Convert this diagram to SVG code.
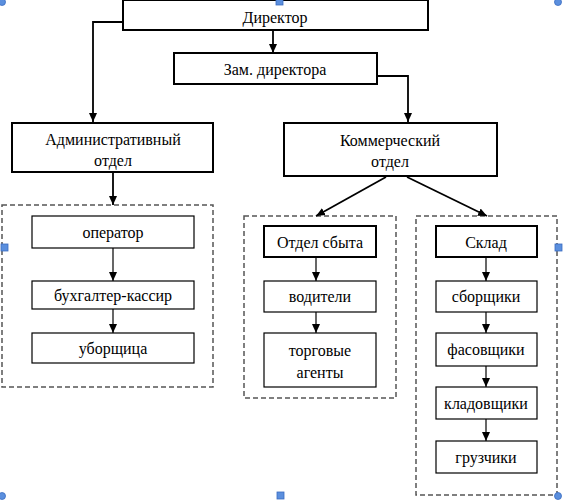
<svg xmlns="http://www.w3.org/2000/svg" width="563" height="502" viewBox="0 0 563 502" font-family="Liberation Serif, serif" font-size="16">
<style>
text{fill:#000;text-anchor:middle}
.thick{fill:#fff;stroke:#000;stroke-width:2}
.thin{fill:#fff;stroke:#000;stroke-width:1.2}
.dash{fill:none;stroke:#555;stroke-width:1.5;stroke-dasharray:5 3}
.main{fill:none;stroke:#000;stroke-width:1.8}
.sub{fill:none;stroke:#000;stroke-width:1.2}
.h{fill:#5b8fde;stroke:#3a6bc0;stroke-width:0.8}
</style>
<defs>
<marker id="ah" markerUnits="userSpaceOnUse" markerWidth="10" markerHeight="10" viewBox="0 0 10 10" refX="9" refY="5" orient="auto">
<path d="M0,1 L9,5 L0,9 Z" fill="#000"/>
</marker>
</defs>

<g id="dashed-groups">
<rect class="dash" x="2" y="205" width="211" height="182"/>
<rect class="dash" x="244" y="216" width="152" height="182"/>
<rect class="dash" x="416" y="216" width="141" height="279"/>
</g>

<g id="connectors">
<path class="main" d="M123,22 H93 V122" marker-end="url(#ah)"/>
<path class="main" d="M273,30 V53" marker-end="url(#ah)"/>
<path class="main" d="M377,76 H408 V122" marker-end="url(#ah)"/>
<path class="main" d="M113,172 V205" marker-end="url(#ah)"/>
<path class="main" d="M386,177 L316,216" marker-end="url(#ah)"/>
<path class="main" d="M407,177 L487,216" marker-end="url(#ah)"/>
<path class="sub" d="M113,248 V281" marker-end="url(#ah)"/>
<path class="sub" d="M113,309 V333" marker-end="url(#ah)"/>
<path class="sub" d="M316,257 V281" marker-end="url(#ah)"/>
<path class="sub" d="M316,312 V333" marker-end="url(#ah)"/>
<path class="sub" d="M486,257 V281" marker-end="url(#ah)"/>
<path class="sub" d="M486,312 V333" marker-end="url(#ah)"/>
<path class="sub" d="M486,366 V387" marker-end="url(#ah)"/>
<path class="sub" d="M486,419 V441" marker-end="url(#ah)"/>
</g>

<g id="director"><rect class="thick" x="123" y="0" width="305" height="30"/><text x="275" y="23">Директор</text></g>
<g id="deputy"><rect class="thick" x="174" y="53" width="203" height="31"/><text x="275" y="75">Зам. директора</text></g>
<g id="admin"><rect class="thick" x="12" y="123" width="201" height="49"/><text x="113" y="145">Административный</text><text x="113" y="166">отдел</text></g>
<g id="commercial"><rect class="thick" x="284" y="123" width="213" height="53"/><text x="390" y="146">Коммерческий</text><text x="390" y="167">отдел</text></g>

<g id="operator"><rect class="thin" x="32" y="216" width="162" height="32"/><text x="113" y="238">оператор</text></g>
<g id="accountant"><rect class="thin" x="32" y="281" width="162" height="28"/><text x="113" y="301">бухгалтер-кассир</text></g>
<g id="cleaner"><rect class="thin" x="32" y="333" width="162" height="30"/><text x="113" y="354">уборщица</text></g>

<g id="sales"><rect class="thick" x="264" y="226" width="112" height="31"/><text x="320" y="248">Отдел сбыта</text></g>
<g id="drivers"><rect class="thin" x="264" y="281" width="112" height="31"/><text x="320" y="302">водители</text></g>
<g id="agents"><rect class="thin" x="264" y="333" width="112" height="54"/><text x="320" y="356">торговые</text><text x="320" y="378">агенты</text></g>

<g id="warehouse"><rect class="thick" x="436" y="226" width="101" height="31"/><text x="486" y="248">Склад</text></g>
<g id="pickers"><rect class="thin" x="436" y="281" width="101" height="31"/><text x="486" y="302">сборщики</text></g>
<g id="packers"><rect class="thin" x="436" y="333" width="101" height="33"/><text x="486" y="355">фасовщики</text></g>
<g id="storekeepers"><rect class="thin" x="436" y="387" width="101" height="32"/><text x="486" y="409">кладовщики</text></g>
<g id="loaders"><rect class="thin" x="436" y="441" width="101" height="32"/><text x="486" y="463">грузчики</text></g>

<g id="handles">
<circle class="h" cx="2" cy="2" r="3.5"/>
<rect class="h" x="276" y="-2" width="7" height="7"/>
<circle class="h" cx="558" cy="2" r="3.5"/>
<rect class="h" x="1" y="244" width="7" height="7"/>
<rect class="h" x="555" y="244" width="7" height="7"/>
<circle class="h" cx="2" cy="496" r="3.5"/>
<rect class="h" x="277" y="492" width="7" height="7"/>
<circle class="h" cx="558" cy="496" r="3.5"/>
</g>
</svg>
